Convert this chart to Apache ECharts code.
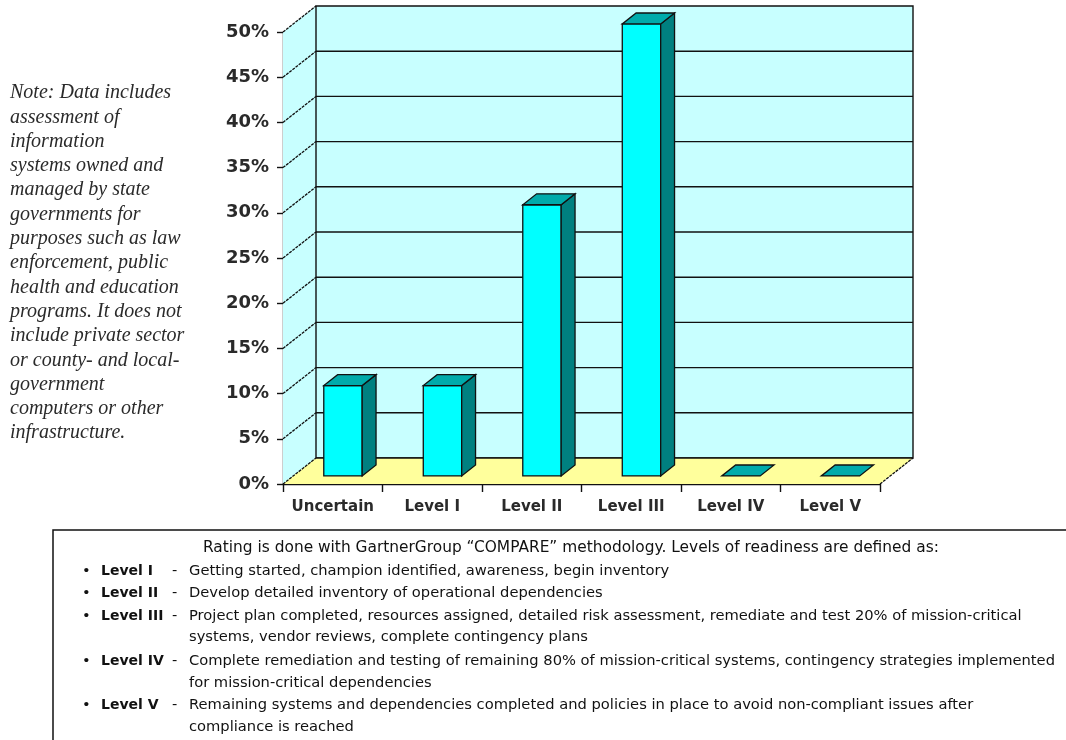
<!DOCTYPE html>
<html>
<head>
<meta charset="utf-8">
<script src="https://cdn.jsdelivr.net/npm/echarts@6/dist/echarts.min.js"></script>
<style>
html,body{margin:0;padding:0;background:#fff;}
#chart{width:1066px;height:740px;}
</style>
</head>
<body>
<div id="chart"></div>
<script>
// ---------- data ----------
const categories = ['Uncertain', 'Level I', 'Level II', 'Level III', 'Level IV', 'Level V'];
const values = [10, 10, 30, 50, 0, 0];
const yTicks = [0, 5, 10, 15, 20, 25, 30, 35, 40, 45, 50];
const noteLines = [
  'Note: Data includes',
  'assessment of',
  'information',
  'systems owned and',
  'managed by state',
  'governments for',
  'purposes such as law',
  'enforcement, public',
  'health and education',
  'programs. It does not',
  'include private sector',
  'or county- and local-',
  'government',
  'computers or other',
  'infrastructure.'
];
const boxHeader = 'Rating is done with GartnerGroup \u201cCOMPARE\u201d methodology. Levels of readiness are defined as:';
const levelNames = ['Level I', 'Level II', 'Level III', 'Level IV', 'Level V'];
const levelDescs = [
  ['Getting started, champion identified, awareness, begin inventory'],
  ['Develop detailed inventory of operational dependencies'],
  ['Project plan completed, resources assigned, detailed risk assessment, remediate and test 20% of mission-critical',
   'systems, vendor reviews, complete contingency plans'],
  ['Complete remediation and testing of remaining 80% of mission-critical systems, contingency strategies implemented',
   'for mission-critical dependencies'],
  ['Remaining systems and dependencies completed and policies in place to avoid non-compliant issues after',
   'compliance is reached']
];

// ---------- style / geometry ----------
const DEPTH_DX = 33, DEPTH_DY = -26;
const BAR_F1 = 0.31, BAR_F2 = 0.73, BAR_W = 0.386;
const yMin = yTicks[0], yMax = yTicks[yTicks.length - 1], yStep = yTicks[1] - yTicks[0];

function renderFrame(params, api) {
  const band = api.size([1, 0])[0];
  const p0 = api.coord([0, yMin]);
  const p1 = api.coord([categories.length - 1, yMin]);
  const x0 = p0[0] - band / 2, x1 = p1[0] + band / 2, y0 = p0[1];
  const yTop = api.coord([0, yMax])[1];
  const dx = DEPTH_DX, dy = DEPTH_DY;
  const ch = [];
  ch.push({type: 'polygon', shape: {points: [[x0, y0], [x0, yTop], [x0 + dx, yTop + dy], [x0 + dx, y0 + dy]]},
    style: {fill: '#c8ffff', stroke: null}});
  ch.push({type: 'rect', shape: {x: x0 + dx, y: yTop + dy, width: x1 - x0, height: y0 - yTop},
    style: {fill: '#c8ffff', stroke: '#111', lineWidth: 1.4}});
  ch.push({type: 'polygon', shape: {points: [[x0, y0], [x1, y0], [x1 + dx, y0 + dy], [x0 + dx, y0 + dy]]},
    style: {fill: '#ffff9c', stroke: null}});
  ch.push({type: 'line', shape: {x1: x1, y1: y0, x2: x1 + dx, y2: y0 + dy},
    style: {stroke: '#111', lineWidth: 1.3, lineDash: [3, 1]}});
  ch.push({type: 'line', shape: {x1: x0 + dx, y1: y0 + dy, x2: x1 + dx, y2: y0 + dy},
    style: {stroke: '#111', lineWidth: 1.4}});
  yTicks.forEach(function (v) {
    const y = api.coord([0, v])[1];
    if (v > yMin && v < yMax) {
      ch.push({type: 'line', shape: {x1: x0 + dx, y1: y + dy, x2: x1 + dx, y2: y + dy},
        style: {stroke: '#111', lineWidth: 1.4}});
    }
    ch.push({type: 'line', shape: {x1: x0, y1: y, x2: x0 + dx, y2: y + dy},
      style: {stroke: '#111', lineWidth: 1.3, lineDash: [3, 1]}});
  });
  return {type: 'group', children: ch};
}

function renderBar(params, api) {
  const band = api.size([1, 0])[0];
  const cat = api.value(0), v = api.value(1);
  const base = api.coord([cat, yMin]);
  const top = api.coord([cat, v]);
  const w = band * BAR_W;
  const ox = DEPTH_DX * BAR_F1, oy = DEPTH_DY * BAR_F1;
  const ddx = DEPTH_DX * (BAR_F2 - BAR_F1), ddy = DEPTH_DY * (BAR_F2 - BAR_F1);
  const xl = base[0] + ox - w / 2, xr = base[0] + ox + w / 2;
  const yb = base[1] + oy, yt = top[1] + oy;
  const st = {stroke: '#111', lineWidth: 1.3};
  const ch = [];
  if (yb - yt > 0.5) {
    ch.push({type: 'rect', shape: {x: xl, y: yt, width: w, height: yb - yt},
      style: Object.assign({fill: '#00ffff'}, st)});
    ch.push({type: 'polygon', shape: {points: [[xr, yt], [xr + ddx, yt + ddy], [xr + ddx, yb + ddy], [xr, yb]]},
      style: Object.assign({fill: '#008080'}, st)});
  }
  ch.push({type: 'polygon', shape: {points: [[xl, yt], [xr, yt], [xr + ddx, yt + ddy], [xl + ddx, yt + ddy]]},
    style: Object.assign({fill: '#00abab'}, st)});
  return {type: 'group', children: ch};
}

// ---------- graphics (note + definition box) ----------
const graphics = [];
noteLines.forEach(function (t, i) {
  graphics.push({type: 'text', x: 10, y: 93 + i * 24.3,
    style: {text: t, font: 'italic 20px "Liberation Serif"', fill: '#2a2a2a', verticalAlign: 'middle'}});
});
graphics.push({type: 'rect', shape: {x: 53, y: 530, width: 1100, height: 400},
  style: {fill: null, stroke: '#111', lineWidth: 1.5}});
graphics.push({type: 'text', x: 203, y: 548,
  style: {text: boxHeader, font: '15.4px "DejaVu Sans"', fill: '#111', verticalAlign: 'middle'}});
let lineIdx = 0;
const lineYs = [571, 593, 616, 637.5, 661, 683, 705, 727];
const txtFont = '14.7px "DejaVu Sans"';
levelNames.forEach(function (name, i) {
  const y0 = lineYs[lineIdx];
  graphics.push({type: 'text', x: 82, y: y0, style: {text: '\u2022', font: txtFont, fill: '#111', verticalAlign: 'middle'}});
  graphics.push({type: 'text', x: 101, y: y0, style: {text: name, font: 'bold 14px "DejaVu Sans"', fill: '#111', verticalAlign: 'middle'}});
  graphics.push({type: 'text', x: 172, y: y0, style: {text: '-', font: txtFont, fill: '#111', verticalAlign: 'middle'}});
  levelDescs[i].forEach(function (d) {
    graphics.push({type: 'text', x: 189, y: lineYs[lineIdx],
      style: {text: d, font: txtFont, fill: '#111', verticalAlign: 'middle'}});
    lineIdx++;
  });
});

const chart = echarts.init(document.getElementById('chart'), null, {renderer: 'canvas'});
chart.setOption({
  backgroundColor: '#ffffff',
  animation: false,
  grid: {left: 283, top: 32, width: 597, height: 452},
  xAxis: {
    type: 'category', data: categories,
    axisLine: {show: true, lineStyle: {color: '#111', width: 1.4}},
    axisTick: {show: true, interval: 0, length: 8, alignWithLabel: false, lineStyle: {color: '#111', width: 1.4}},
    axisLabel: {interval: 0, margin: 16, fontFamily: 'DejaVu Sans', fontWeight: 'bold', fontSize: 15, color: '#2a2a2a'},
    splitLine: {show: false}
  },
  yAxis: {
    type: 'value', min: yMin, max: yMax, interval: yStep,
    axisLine: {show: true, lineStyle: {color: '#111', width: 1.4}},
    axisTick: {show: true, length: 6, lineStyle: {color: '#111', width: 1.4}},
    axisLabel: {margin: 14, formatter: '{value}%', fontFamily: 'DejaVu Sans', fontWeight: 'bold', fontSize: 18, color: '#2a2a2a'},
    splitLine: {show: false}
  },
  series: [
    {type: 'custom', name: 'frame', renderItem: renderFrame, data: [[0, 0]], z: 1, silent: true, clip: false},
    {type: 'custom', name: 'Readiness', renderItem: renderBar, z: 2, clip: false,
      data: values.map(function (v, i) { return [i, v]; })}
  ],
  graphic: graphics
});
</script>
</body>
</html>
